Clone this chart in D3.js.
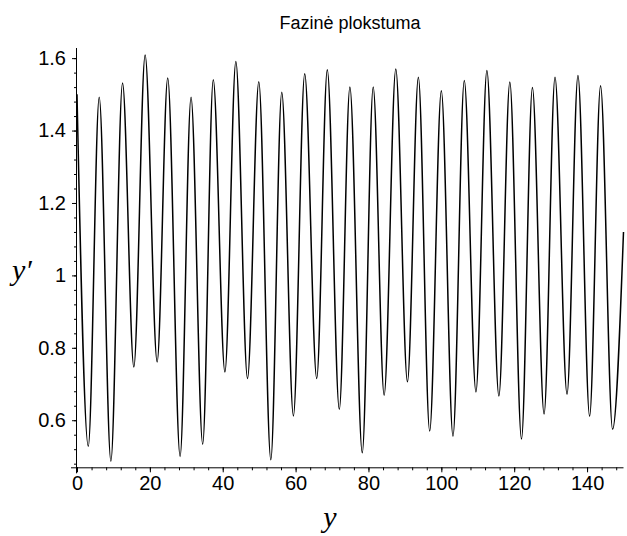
<!DOCTYPE html>
<html>
<head>
<meta charset="utf-8">
<script src="https://cdn.jsdelivr.net/npm/d3@7"></script>
<style>
  html, body { margin: 0; padding: 0; background: #fff; }
  svg { display: block; }
</style>
</head>
<body>
<svg id="chart" width="627" height="536"></svg>
<script>
// Extrema of the curve (time, y')
const tValues = [0, 3.1, 6.1, 9.3, 12.5, 15.6, 18.7, 22.0, 24.9, 28.3, 31.3, 34.5, 37.4, 40.6, 43.6, 46.8,
  49.9, 53.2, 56.2, 59.4, 62.5, 65.8, 68.7, 72.0, 74.9, 78.3, 81.3, 84.3, 87.5, 90.7, 93.7, 96.8,
  100.0, 103.2, 106.3, 109.5, 112.5, 115.8, 118.8, 122.0, 125.0, 128.2, 131.2, 134.5, 137.5, 140.7,
  143.7, 147.0, 150];
const yPrimeValues = [1.50, 0.528, 1.492, 0.487, 1.531, 0.747, 1.609, 0.761, 1.545, 0.500, 1.492, 0.534,
  1.540, 0.733, 1.591, 0.715, 1.535, 0.491, 1.506, 0.612, 1.557, 0.715, 1.568, 0.630, 1.520, 0.510,
  1.520, 0.669, 1.570, 0.706, 1.547, 0.570, 1.510, 0.556, 1.538, 0.678, 1.566, 0.667, 1.534, 0.548,
  1.519, 0.617, 1.547, 0.672, 1.552, 0.611, 1.524, 0.575, 1.12];

const xTickValues = [0, 20, 40, 60, 80, 100, 120, 140];
const yTickValues = [0.6, 0.8, 1, 1.2, 1.4, 1.6];
const yTickLabels = ["0.6", "0.8", "1", "1.2", "1.4", "1.6"];
const xMinorTicks = d3.range(0, 150, 4);
const yMinorTicks = d3.range(0.48, 1.62, 0.04);

const titleText = "Fazinė plokstuma";
const xLabel = "y";
const yLabel = "y\u2032";

const data = tValues.map((t, i) => ({ t, v: yPrimeValues[i] }));

const sans = '"Liberation Sans", Arial, sans-serif';
const serif = '"Liberation Serif", "Times New Roman", serif';

const svg = d3.select("#chart");

const x = d3.scaleLinear().domain([0, 150]).range([77, 623.5]);
const y = d3.scaleLinear().domain([0.47, 1.628]).range([467.3, 48]);

// curve
svg.append("path")
  .datum(data)
  .attr("fill", "none")
  .attr("stroke", "#000")
  .attr("stroke-width", 1.5)
  .attr("d", d3.line().x(d => x(d.t)).y(d => y(d.v)).curve(d3.curveMonotoneX));

// x axis
const gx = svg.append("g").attr("transform", `translate(0,${y(0.47)})`);
gx.call(d3.axisBottom(x).tickValues(xMinorTicks).tickSize(3).tickFormat("").tickSizeOuter(0));
gx.call(g => g.select(".domain").remove());
const gx2 = svg.append("g").attr("transform", `translate(0,${y(0.47)})`);
gx2.call(d3.axisBottom(x).tickValues(xTickValues).tickSize(5).tickPadding(4).tickSizeOuter(0).tickFormat(d3.format("d")));
gx2.select(".domain").attr("d", `M${x(0) - 6},0.5H${x(150)}`);
gx2.selectAll("text").style("font-size", "20px").style("font-family", sans);

// y axis
const gy = svg.append("g").attr("transform", `translate(${x(0)},0)`);
gy.call(d3.axisLeft(y).tickValues(yMinorTicks).tickSize(3).tickFormat("").tickSizeOuter(0));
gy.call(g => g.select(".domain").remove());
const gy2 = svg.append("g").attr("transform", `translate(${x(0)},0)`);
gy2.call(d3.axisLeft(y).tickValues(yTickValues).tickSize(5).tickPadding(6).tickSizeOuter(0)
  .tickFormat((d, i) => yTickLabels[i]));
gy2.select(".domain").attr("d", `M-0.5,${y(1.628)}V${y(0.47) + 6}`);
gy2.selectAll("text").style("font-size", "20px").style("font-family", sans);

svg.selectAll(".tick line, .domain").attr("stroke", "#000").attr("stroke-width", 1);

// title
svg.append("text")
  .attr("x", 350).attr("y", 29)
  .attr("text-anchor", "middle")
  .style("font-family", sans)
  .style("font-size", "18px")
  .text(titleText);

// axis labels
svg.append("text")
  .attr("x", 22).attr("y", 280)
  .attr("text-anchor", "middle")
  .style("font-family", serif)
  .style("font-style", "italic")
  .style("font-size", "30px")
  .text(yLabel);

svg.append("text")
  .attr("x", 330).attr("y", 527)
  .attr("text-anchor", "middle")
  .style("font-family", serif)
  .style("font-style", "italic")
  .style("font-size", "30px")
  .text(xLabel);
</script>
</body>
</html>
